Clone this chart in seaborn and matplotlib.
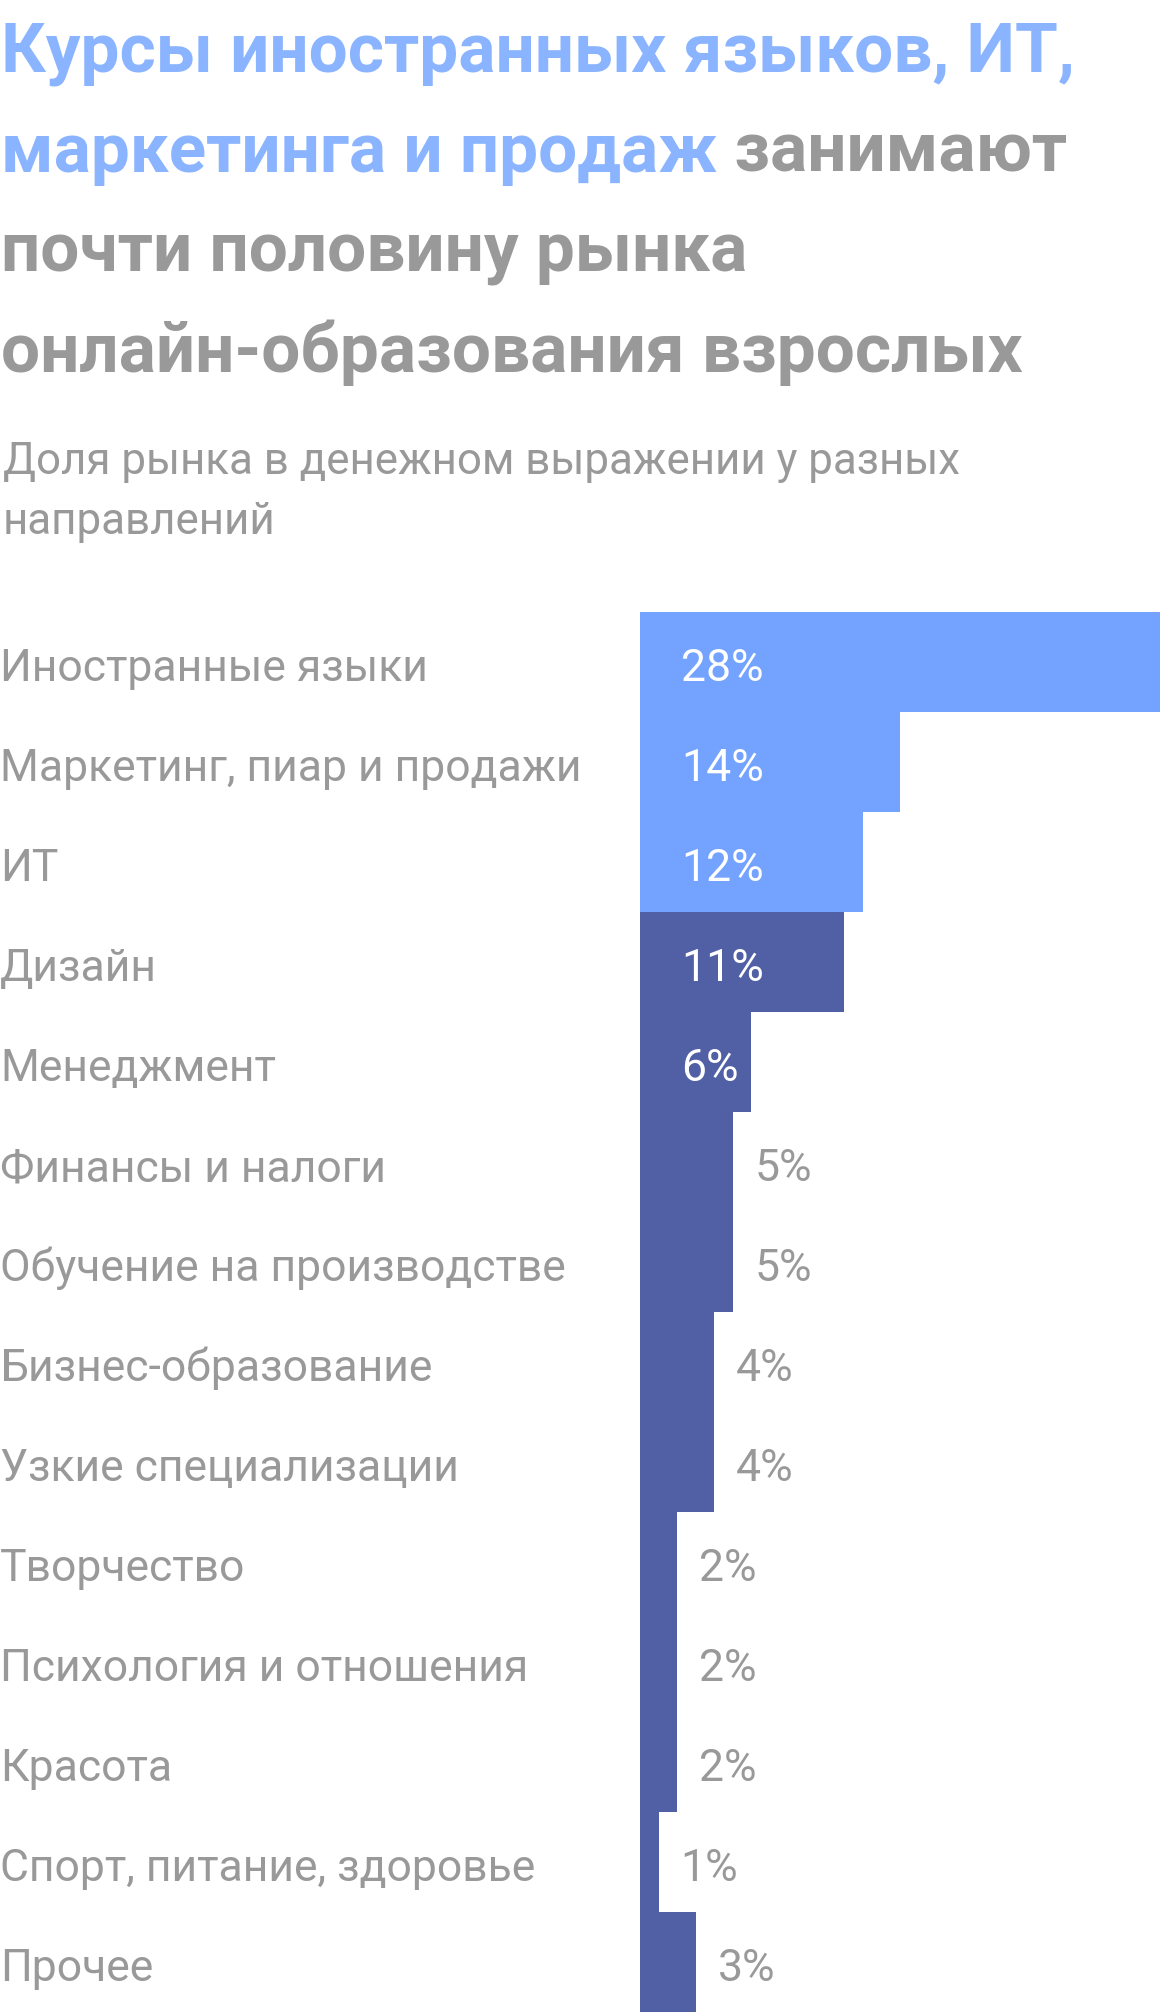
import matplotlib
matplotlib.use("Agg")
import matplotlib.pyplot as plt
import matplotlib.transforms as mtransforms
import seaborn as sns
import pandas as pd

# ---- data ----
categories = [
    "Иностранные языки",
    "Маркетинг, пиар и продажи",
    "ИТ",
    "Дизайн",
    "Менеджмент",
    "Финансы и налоги",
    "Обучение на производстве",
    "Бизнес-образование",
    "Узкие специализации",
    "Творчество",
    "Психология и отношения",
    "Красота",
    "Спорт, питание, здоровье",
    "Прочее",
]
shares = [28, 14, 12, 11, 6, 5, 5, 4, 4, 2, 2, 2, 1, 3]
groups = ["top"] * 3 + ["other"] * 11
value_labels = [f"{v}%" for v in shares]

title_blue_1 = "Курсы иностранных языков, ИТ,"
title_blue_2 = "маркетинга и продаж"
title_gray_2 = " занимают"
title_gray_3 = "почти половину рынка"
title_gray_4 = "онлайн-образования взрослых"
subtitle_lines = ["Доля рынка в денежном выражении у разных", "направлений"]

# ---- style ----
BLUE_BAR = "#73A2FF"
DARK_BAR = "#5160A5"
BLUE_TITLE = "#8AB4FF"
GRAY = "#999999"
W, H, DPI = 1160, 2012, 100

sns.set_theme(style="white")
plt.rcParams["font.family"] = ["Roboto", "DejaVu Sans"]

fig = plt.figure(figsize=(W / DPI, H / DPI), dpi=DPI)
fig.patch.set_facecolor("white")
renderer = fig.canvas.get_renderer()


def fit(text, target_px, **kw):
    t = fig.text(0, 0, text, fontsize=20, **kw)
    w = t.get_window_extent(renderer).width
    t.remove()
    return 20 * target_px / w


def fy(px):
    return 1 - px / H


# ---- title ----
title_fs = fit(title_blue_1, 1070, fontweight="bold")
x0 = 1 / W
fig.text(x0, fy(72), title_blue_1, color=BLUE_TITLE, fontsize=title_fs,
         fontweight="bold", va="baseline", ha="left")
t2 = fig.text(x0, fy(172), title_blue_2, color=BLUE_TITLE, fontsize=title_fs,
              fontweight="bold", va="baseline", ha="left")
ext = t2.get_window_extent(renderer)
fig.text(ext.x1 / W, fy(172), title_gray_2, color=GRAY, fontsize=title_fs,
         fontweight="bold", va="baseline", ha="left")
fig.text(x0, fy(272), title_gray_3, color=GRAY, fontsize=title_fs,
         fontweight="bold", va="baseline", ha="left")
fig.text(x0, fy(372), title_gray_4, color=GRAY, fontsize=title_fs,
         fontweight="bold", va="baseline", ha="left")

# ---- subtitle ----
sub_fs = fit(subtitle_lines[0], 956)
for i, line in enumerate(subtitle_lines):
    fig.text(3 / W, fy(474 + 60 * i), line, color=GRAY, fontsize=sub_fs,
             va="baseline", ha="left")

# ---- bars ----
df = pd.DataFrame({"category": categories, "share": shares, "group": groups})
ax = fig.add_axes([640 / W, 0, 520 / W, 1400 / H])
sns.barplot(data=df, y="category", x="share", hue="group",
            palette={"top": BLUE_BAR, "other": DARK_BAR}, orient="h",
            width=1.0, dodge=False, legend=False, linewidth=0,
            saturation=1, ax=ax)
ax.set_xlim(0, 28)
ax.set_ylim(len(categories) - 0.5, -0.5)
ax.axis("off")

lab_fs = fit("Маркетинг, пиар и продажи", 582)
blend = mtransforms.blended_transform_factory(fig.transFigure, ax.transData)
off = mtransforms.ScaledTranslation(0, -19 / DPI, fig.dpi_scale_trans)
for i, cat in enumerate(categories):
    ax.text(0, i, cat, transform=blend + off, color=GRAY, fontsize=lab_fs,
            va="baseline", ha="left")

for i, (v, lab) in enumerate(zip(shares, value_labels)):
    if v > 5:
        ax.annotate(lab, xy=(0, i), xytext=(41 * 0.72, -19 * 0.72),
                    textcoords="offset points", color="white", fontsize=lab_fs,
                    va="baseline", ha="left")
    else:
        ax.annotate(lab, xy=(v, i), xytext=(22 * 0.72, -19 * 0.72),
                    textcoords="offset points", color=GRAY, fontsize=lab_fs,
                    va="baseline", ha="left")

fig.savefig("out.png", dpi=DPI, facecolor="white")
